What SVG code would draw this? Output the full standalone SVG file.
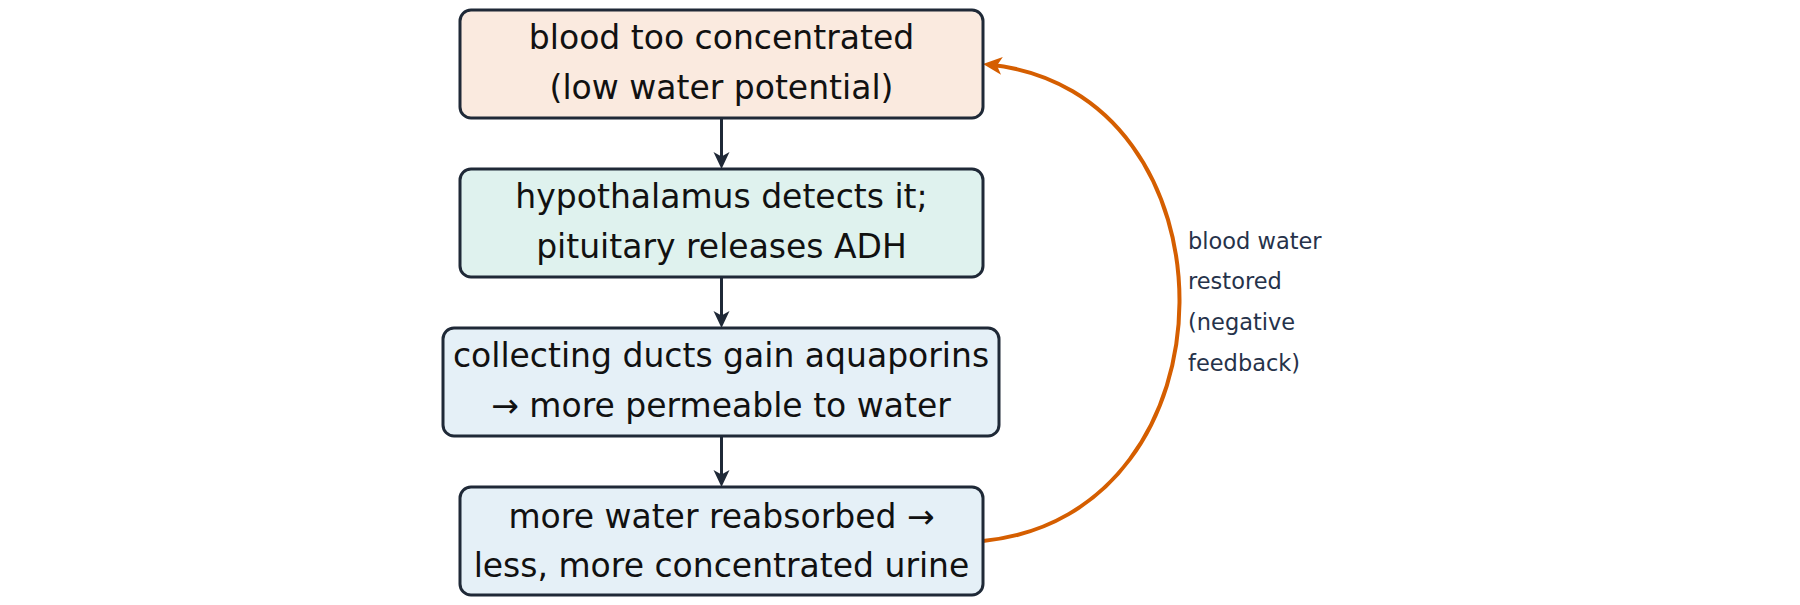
<svg xmlns="http://www.w3.org/2000/svg" width="1800" height="605" viewBox="0 0 1800 605">
  <style>
    .box { stroke: #1f2937; stroke-width: 3; }
    .t { font-family: "DejaVu Sans", "Liberation Sans", sans-serif; font-size: 33px; fill: #111111; text-anchor: middle; }
    .lbl { font-family: "DejaVu Sans", "Liberation Sans", sans-serif; font-size: 22.5px; fill: #26324a; }
    .flow { stroke: #1f2937; stroke-width: 3; fill: none; }
    .loop { stroke: #d55e00; stroke-width: 4; fill: none; }
  </style>
  <defs>
    <marker id="headDark" viewBox="-14 -10 22 20" refX="0" refY="0" markerWidth="22" markerHeight="20" markerUnits="userSpaceOnUse" orient="auto">
      <path d="M6,0 L-11,-8 L-6.5,0 L-11,8 Z" fill="#1f2937"/>
    </marker>
    <marker id="headOrange" viewBox="-16 -10 24 20" refX="0" refY="0" markerWidth="24" markerHeight="20" markerUnits="userSpaceOnUse" orient="auto">
      <path d="M6,0 L-13,-9 L-8,0 L-13,9 Z" fill="#d55e00"/>
    </marker>
  </defs>

  <g id="connectors">
    <line class="flow" x1="721.5" y1="118" x2="721.5" y2="163" marker-end="url(#headDark)"/>
    <line class="flow" x1="721.5" y1="277" x2="721.5" y2="322" marker-end="url(#headDark)"/>
    <line class="flow" x1="721.5" y1="436" x2="721.5" y2="481" marker-end="url(#headDark)"/>
    <path class="loop" d="M983,541 C1244,515 1244,90 989,64.6" marker-end="url(#headOrange)"/>
  </g>

  <g id="node-concentrated">
    <rect class="box" x="460" y="10" width="523" height="108" rx="11" fill="#faeadf"/>
    <text class="t" x="721.5" y="48.5">blood too concentrated</text>
    <text class="t" x="721.5" y="98.5">(low water potential)</text>
  </g>

  <g id="node-hypothalamus">
    <rect class="box" x="460" y="169" width="523" height="108" rx="11" fill="#dff2ee"/>
    <text class="t" x="721.5" y="207.5">hypothalamus detects it;</text>
    <text class="t" x="721.5" y="257.5">pituitary releases ADH</text>
  </g>

  <g id="node-aquaporins">
    <rect class="box" x="443" y="328" width="556" height="108" rx="11" fill="#e5f0f7"/>
    <text class="t" x="721" y="367">collecting ducts gain aquaporins</text>
    <text class="t" x="721" y="416.5">→ more permeable to water</text>
  </g>

  <g id="node-reabsorbed">
    <rect class="box" x="460" y="487" width="523" height="108" rx="11" fill="#e5f0f7"/>
    <text class="t" x="721.5" y="527.5">more water reabsorbed →</text>
    <text class="t" x="721.5" y="576.5">less, more concentrated urine</text>
  </g>

  <g id="loop-label">
    <text class="lbl" x="1188" y="249">blood water</text>
    <text class="lbl" x="1188" y="289">restored</text>
    <text class="lbl" x="1188" y="330">(negative</text>
    <text class="lbl" x="1188" y="371">feedback)</text>
  </g>
</svg>
